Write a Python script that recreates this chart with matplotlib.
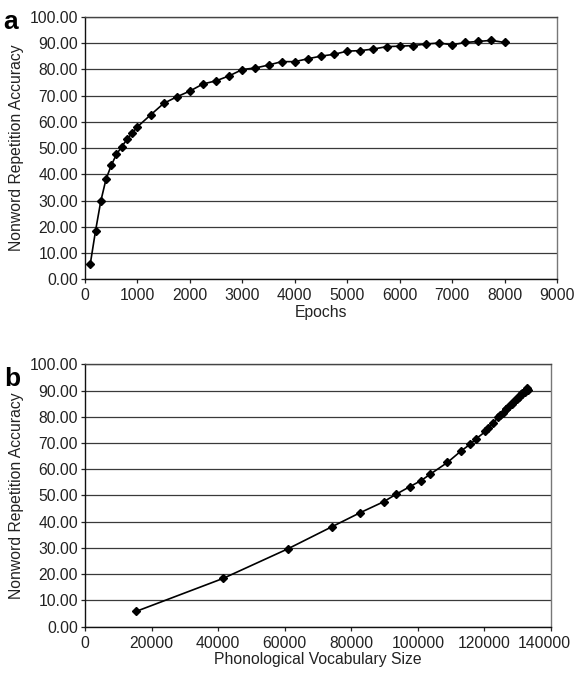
import numpy as np
import matplotlib
matplotlib.use('Agg')
import matplotlib.pyplot as plt
import matplotlib.ticker as ticker
from matplotlib.transforms import ScaledTranslation

plt.rcParams['font.family'] = ['Liberation Sans', 'DejaVu Sans']

# training epochs at which the model was tested
epochs = [100, 200, 300, 400, 500, 600, 700, 800, 900, 1000,
          1250, 1500, 1750, 2000, 2250, 2500, 2750, 3000, 3250, 3500,
          3750, 4000, 4250, 4500, 4750, 5000, 5250, 5500, 5750, 6000,
          6250, 6500, 6750, 7000, 7250, 7500, 7750, 8000]

# nonword repetition accuracy (%) at each epoch
accuracy = [5.8, 18.4, 29.7, 38.1, 43.4, 47.6, 50.5, 53.3, 55.7, 58.1,
            62.6, 67.0, 69.5, 71.7, 74.4, 75.6, 77.5, 79.9, 80.5, 81.6,
            82.9, 82.9, 84.0, 85.0, 85.7, 86.9, 87.1, 87.7, 88.6, 88.8,
            89.0, 89.6, 90.0, 89.3, 90.2, 90.6, 91.0, 90.2]

# phonological vocabulary size at each epoch
vocab = [15300, 41500, 61000, 74200, 82600, 89700, 93500, 97500, 101000, 103700,
         108900, 113000, 115700, 117600, 120300, 121200, 122500, 124200, 124600, 125500,
         126500, 126600, 127400, 128200, 128700, 129700, 129900, 130300, 131000, 131200,
         131400, 131800, 132100, 132200, 132400, 132700, 132900, 133000]

y_ticks = np.arange(0, 101, 10)

fig = plt.figure(figsize=(5.76, 6.75), dpi=100)
ax_a = fig.add_axes([0.1476, 0.5862, 0.8194, 0.389])
ax_b = fig.add_axes([0.1476, 0.0716, 0.809, 0.3887])

fs = 11.3


def style_axes(ax, xmax, xstep, xlabel):
    ax.set_ylim(0, 100)
    ax.set_xlim(0, xmax)
    ax.set_yticks(y_ticks)
    ax.set_xticks(np.arange(0, xmax + 1, xstep))
    ax.yaxis.set_major_formatter(ticker.StrMethodFormatter('{x:.2f}'))
    ax.grid(True, axis='y', color='#3a3a3a', linewidth=0.9)
    ax.set_axisbelow(True)
    ax.tick_params(direction='out', length=3, width=0.9, labelsize=fs,
                   colors='#222222')
    ax.tick_params(axis='x', pad=3.5)
    ax.tick_params(axis='y', pad=2)
    ax.spines['left'].set_color('#111111')
    ax.spines['bottom'].set_color('#111111')
    ax.spines['top'].set_color('#444444')
    ax.spines['right'].set_color('#777777')
    for s in ax.spines.values():
        s.set_linewidth(1.0)
    ax.set_xlabel(xlabel, fontsize=fs, color='#222222', labelpad=1)
    ax.set_ylabel('Nonword Repetition Accuracy', fontsize=fs, color='#222222', labelpad=4)


ax_a.plot(epochs, accuracy, color='black', linewidth=1.2, marker='D',
          markersize=4.3, markerfacecolor='black', markeredgecolor='black')
style_axes(ax_a, 9000, 1000, 'Epochs')

ax_b.plot(vocab, accuracy, color='black', linewidth=1.2, marker='D',
          markersize=4.3, markerfacecolor='black', markeredgecolor='black')
style_axes(ax_b, 140000, 20000, 'Phonological Vocabulary Size')

# the last tick label of panel b is nudged left to stay inside the figure
fig.canvas.draw()
last = ax_b.get_xticklabels()[-1]
last.set_transform(last.get_transform() + ScaledTranslation(-7 / 100, 0, fig.dpi_scale_trans))

fig.text(0.005, 0.985, 'a', fontsize=19, fontweight='bold', va='top', ha='left')
fig.text(0.008, 0.457, 'b', fontsize=19, fontweight='bold', va='top', ha='left')

fig.savefig('out.png', dpi=100)
